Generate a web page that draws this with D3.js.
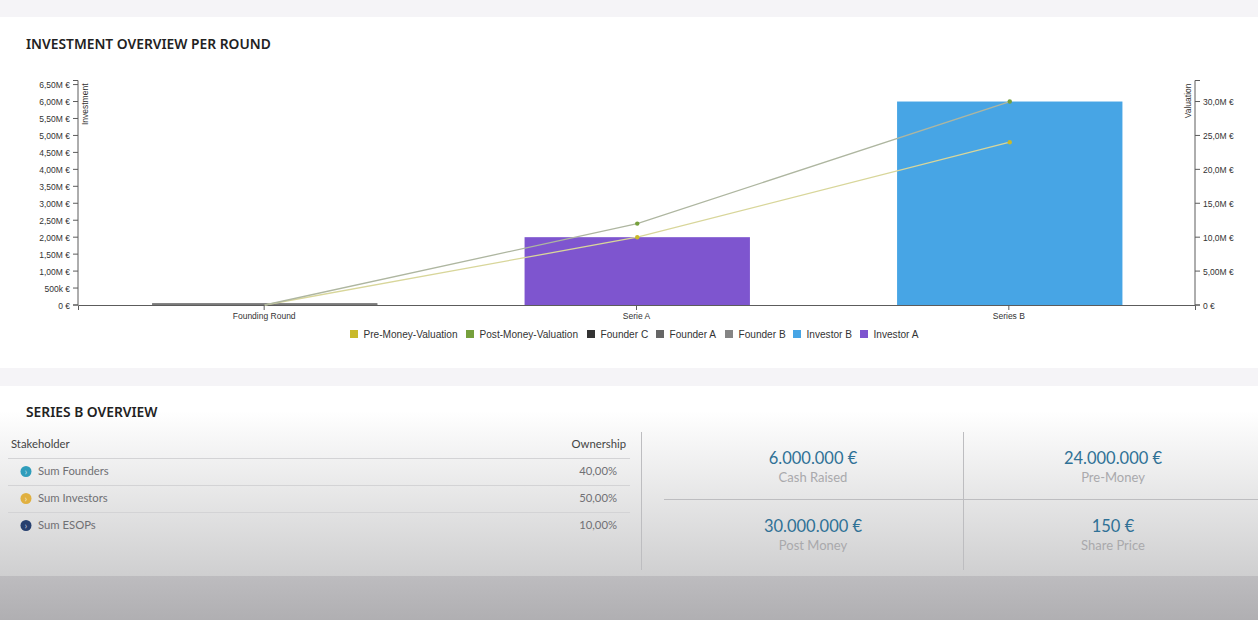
<!DOCTYPE html>
<html><head><meta charset="utf-8">
<script src="https://cdn.jsdelivr.net/npm/d3@7"></script>
<style>
html,body{margin:0;padding:0;background:#f5f4f7;overflow:hidden}
svg{display:block}
.ax text{font-family:"Liberation Sans",Arial,sans-serif;font-size:8.5px;fill:#333}
.ax path,.ax line{stroke:#5c5c5c;stroke-width:1}
.leg{font-family:"Liberation Sans",Arial,sans-serif;font-size:10.1px;fill:#333}
.ui{font-family:"Lato","Noto Sans",sans-serif}
.head{font-family:"Noto Sans",sans-serif;font-weight:600}
</style></head><body>
<svg id="c" width="1258" height="620"></svg>
<script>
const categories=["Founding Round","Serie A","Series B"];
const investmentTicks=[0,5e5,1e6,1.5e6,2e6,2.5e6,3e6,3.5e6,4e6,4.5e6,5e6,5.5e6,6e6,6.5e6];
const valuationTicks=[0,5e6,1e7,1.5e7,2e7,2.5e7,3e7];
const founderC=[5000,0,0];
const founderA=[25000,0,0];
const founderB=[25000,0,0];
const investorB=[0,0,6000000];
const investorA=[0,2000000,0];
const preMoney=[0,10000000,24000000];
const postMoney=[0,12000000,30000000];
const legendLabels=["Pre-Money-Valuation","Post-Money-Valuation","Founder C","Founder A","Founder B","Investor B","Investor A"];
const legendColors=["#c9b92a","#76a03c","#333333","#666666","#858585","#47a5e5","#7e55cf"];
const stakeholders=["Sum Founders","Sum Investors","Sum ESOPs"];
const ownership=["40,00%","50,00%","10,00%"];
const dotColors=["#2f9dbb","#e0b040","#27406f"];
const kpiValues=["6.000.000 €","24.000.000 €","30.000.000 €","150 €"];
const kpiLabels=["Cash Raised","Pre-Money","Post Money","Share Price"];

const svg=d3.select("#c");
const defs=svg.append("defs");
const g1=defs.append("linearGradient").attr("id","pg").attr("x1",0).attr("x2",0).attr("y1",0).attr("y2",1);
g1.append("stop").attr("offset","0").attr("stop-color","#ffffff");
g1.append("stop").attr("offset","0.13").attr("stop-color","#ffffff");
g1.append("stop").attr("offset","1").attr("stop-color","#cfcfd0");
const g2=defs.append("linearGradient").attr("id","bg").attr("x1",0).attr("x2",0).attr("y1",0).attr("y2",1);
g2.append("stop").attr("offset","0").attr("stop-color","#bdbcbf");
g2.append("stop").attr("offset","1").attr("stop-color","#b0afb2");

svg.append("rect").attr("width",1258).attr("height",620).attr("fill","#f5f4f7");
svg.append("rect").attr("x",0).attr("y",17).attr("width",1258).attr("height",351).attr("fill","#fff");
svg.append("rect").attr("x",0).attr("y",386).attr("width",1258).attr("height",190).attr("fill","url(#pg)");
svg.append("rect").attr("x",0).attr("y",576).attr("width",1258).attr("height",44).attr("fill","url(#bg)");

svg.append("text").attr("class","head").attr("x",26).attr("y",49).attr("font-size",13.8).attr("fill","#222").text("INVESTMENT OVERVIEW PER ROUND");
svg.append("text").attr("class","head").attr("x",26).attr("y",417).attr("font-size",13.8).attr("fill","#222").text("SERIES B OVERVIEW");

const L=78,R=1195,T=80.5,B=305;
const x=d3.scaleBand().domain(categories).range([78.5,1196]).paddingInner(0.395).paddingOuter(0.1975);
const yL=d3.scaleLinear().domain([0,6.62e6]).range([B,T]);
const yR=d3.scaleLinear().domain([0,33.1e6]).range([B,T]);
const fmtL=v=>v===0?"0 €":v<1e6?(v/1e3)+"k €":(v/1e6).toFixed(2).replace(".",",")+"M €";
const fmtR=v=>v===0?"0 €":v<1e7?(v/1e6).toFixed(2).replace(".",",")+"M €":(v/1e6).toFixed(1).replace(".",",")+"M €";

const stackKeys=[["Founder C",founderC,"#333333"],["Founder A",founderA,"#666666"],["Founder B",founderB,"#707070"],["Investor B",investorB,"#47a5e5"],["Investor A",investorA,"#7e55cf"]];
categories.forEach((c,i)=>{
  let acc=0;
  stackKeys.forEach(([n,vals,col])=>{
    const v=vals[i]; if(!v) return;
    svg.append("rect").attr("x",x(c)).attr("width",x.bandwidth()).attr("y",yL(acc+v)).attr("height",yL(acc)-yL(acc+v)).attr("fill",col);
    acc+=v;
  });
});

svg.append("g").attr("class","ax").attr("transform",`translate(0,${B})`).call(d3.axisBottom(d3.scaleBand().domain(categories).range([L,R]).paddingInner(0.395).paddingOuter(0.1975)).offset(0.5).tickSize(5).tickPadding(3));
const axL=svg.append("g").attr("class","ax").attr("transform",`translate(${L},0)`).call(d3.axisLeft(yL).offset(0).tickValues(investmentTicks).tickFormat(fmtL).tickSize(5).tickPadding(3));
const axR=svg.append("g").attr("class","ax").attr("transform",`translate(${R},0)`).call(d3.axisRight(yR).offset(0).tickValues(valuationTicks).tickFormat(fmtR).tickSize(5).tickPadding(3));
axL.selectAll("text").attr("y",0.8);
axR.selectAll("text").attr("y",0.8);
svg.append("text").attr("class","leg").attr("transform",`translate(88,${T+3}) rotate(-90)`).attr("text-anchor","end").style("font-size","8.5px").text("Investment");
svg.append("text").attr("class","leg").attr("transform",`translate(1191,${T+3}) rotate(-90)`).attr("text-anchor","end").style("font-size","8.5px").text("Valuation");

const cx=c=>x(c)+x.bandwidth()/2;
const line=d3.line().x((d,i)=>cx(categories[i])).y(d=>yR(d));
[[preMoney,"#c9b92a","#d8d69a"],[postMoney,"#76a03c","#aeb6a0"]].forEach(([s,col,lc])=>{
  svg.append("path").attr("d",line(s)).attr("fill","none").attr("stroke",lc).attr("stroke-width",1.3);
  s.forEach((v,i)=>{ if(i>0) svg.append("circle").attr("cx",cx(categories[i])).attr("cy",yR(v)).attr("r",2.2).attr("fill",col); });
});

const legX=[350,466,587,656,725,793,860];
legendLabels.forEach((t,i)=>{
  svg.append("rect").attr("x",legX[i]).attr("y",330).attr("width",8).attr("height",8).attr("fill",legendColors[i]);
  svg.append("text").attr("class","leg").attr("x",legX[i]+13.5).attr("y",338).text(t);
});

const hline=(x1,x2,y,c)=>svg.append("line").attr("x1",x1).attr("x2",x2).attr("y1",y).attr("y2",y).attr("stroke",c||"#d3d3d5");
const vline=(x0,y1,y2)=>svg.append("line").attr("x1",x0).attr("x2",x0).attr("y1",y1).attr("y2",y2).attr("stroke","#bdbdc0");
svg.append("text").attr("class","ui").attr("x",11).attr("y",448).attr("font-size",11.3).attr("fill","#444").text("Stakeholder");
svg.append("text").attr("class","ui").attr("x",626).attr("y",448).attr("text-anchor","end").attr("font-size",11.3).attr("fill","#444").text("Ownership");
hline(8,630,458.5);hline(8,630,485.5);hline(8,630,512.5);
stakeholders.forEach((s,i)=>{
  const y=471+27*i;
  svg.append("circle").attr("cx",26).attr("cy",y+.5).attr("r",5.5).attr("fill",dotColors[i]);
  svg.append("text").attr("class","ui").attr("x",26).attr("y",y+3.5).attr("text-anchor","middle").attr("font-size",10).attr("fill","#fff").attr("fill-opacity",.7).text("›");
  svg.append("text").attr("class","ui").attr("x",38).attr("y",y+4).attr("font-size",11.3).attr("fill","#707074").text(s);
  svg.append("text").attr("class","ui").attr("x",617).attr("y",y+4).attr("text-anchor","end").attr("font-size",11.3).attr("fill","#707074").text(ownership[i]);
});
vline(641.5,432,570);vline(963.5,432,570);
hline(664,1258,499.5,"#bdbdc0");
const kx=[813,1113],ky=[464,532];
kpiValues.forEach((v,i)=>{
  const X=kx[i%2],Y=ky[i>>1];
  svg.append("text").attr("class","ui").attr("x",X).attr("y",Y).attr("text-anchor","middle").attr("font-size",16.5).attr("fill","#2f7196").text(v);
  svg.append("text").attr("class","ui").attr("x",X).attr("y",Y+17.5).attr("text-anchor","middle").attr("font-size",13).attr("fill","#a9a9ac").text(kpiLabels[i]);
});
</script></body></html>
